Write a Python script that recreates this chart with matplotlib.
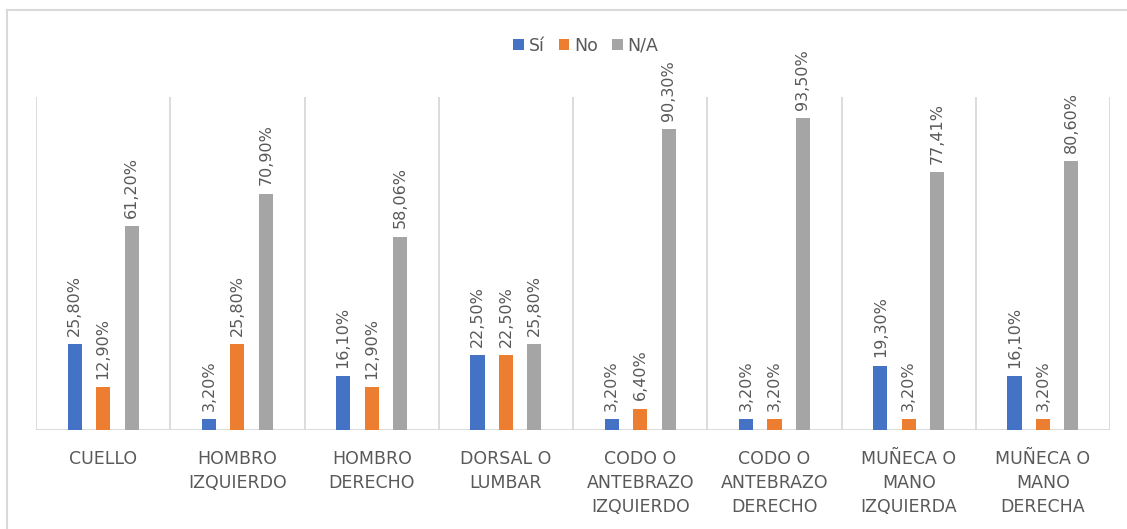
import numpy as np
import matplotlib.pyplot as plt
from matplotlib.lines import Line2D

categories = ['CUELLO', 'HOMBRO\nIZQUIERDO', 'HOMBRO\nDERECHO', 'DORSAL O\nLUMBAR',
              'CODO O\nANTEBRAZO\nIZQUIERDO', 'CODO O\nANTEBRAZO\nDERECHO',
              'MUÑECA O\nMANO\nIZQUIERDA', 'MUÑECA O\nMANO\nDERECHA']
si = [25.80, 3.20, 16.10, 22.50, 3.20, 3.20, 19.30, 16.10]
no = [12.90, 25.80, 12.90, 22.50, 6.40, 3.20, 3.20, 3.20]
na = [61.20, 70.90, 58.06, 25.80, 90.30, 93.50, 77.41, 80.60]
series_names = ['Sí', 'No', 'N/A']
colors = ['#4472C4', '#ED7D31', '#A5A5A5']
text_color = '#595959'
grid_color = '#D9D9D9'

fig = plt.figure(figsize=(11.27, 5.29), dpi=100)
ax = fig.add_axes([0.032, 0.187, 0.953, 0.63])

x = np.arange(len(categories))
offsets = [-0.212, 0.0, 0.212]
width = 0.105
for vals, name, c, off in zip([si, no, na], series_names, colors, offsets):
    bars = ax.bar(x + off, vals, width, color=c, label=name, zorder=3)
    for b, v in zip(bars, vals):
        ax.annotate(f'{v:.2f}'.replace('.', ',') + '%',
                    (b.get_x() + b.get_width() / 2, v),
                    xytext=(0, 6), textcoords='offset points',
                    rotation=90, ha='center', va='bottom',
                    fontsize=11.5, color=text_color)

# category separators
ax.vlines(np.arange(len(categories) + 1) - 0.5, 0, 100, color=grid_color, lw=1.3, zorder=1)
ax.axhline(0, color=grid_color, lw=1.3, zorder=2)

ax.set_xlim(-0.5, len(categories) - 0.5)
ax.set_ylim(0, 100)
ax.set_xticks(x)
ax.set_xticklabels(categories, fontsize=12.5, color=text_color, linespacing=1.45)
ax.tick_params(axis='x', length=0, pad=14)
ax.set_yticks([])
for s in ax.spines.values():
    s.set_visible(False)

ax.legend(loc='lower center', bbox_to_anchor=(0.512, 1.08), ncol=3, frameon=False,
          fontsize=12.5, labelcolor=text_color, handlelength=0.6, handleheight=0.6,
          handletextpad=0.3, columnspacing=0.8)

# outer chart border (cropped on the right and bottom)
bx, by = 7 / 1127, 1 - 10 / 529
fig.add_artist(Line2D([bx, 1], [by, by], color=grid_color, lw=1.5, transform=fig.transFigure))
fig.add_artist(Line2D([bx, bx], [0, by], color=grid_color, lw=1.5, transform=fig.transFigure))

fig.savefig('out.png', dpi=100)
